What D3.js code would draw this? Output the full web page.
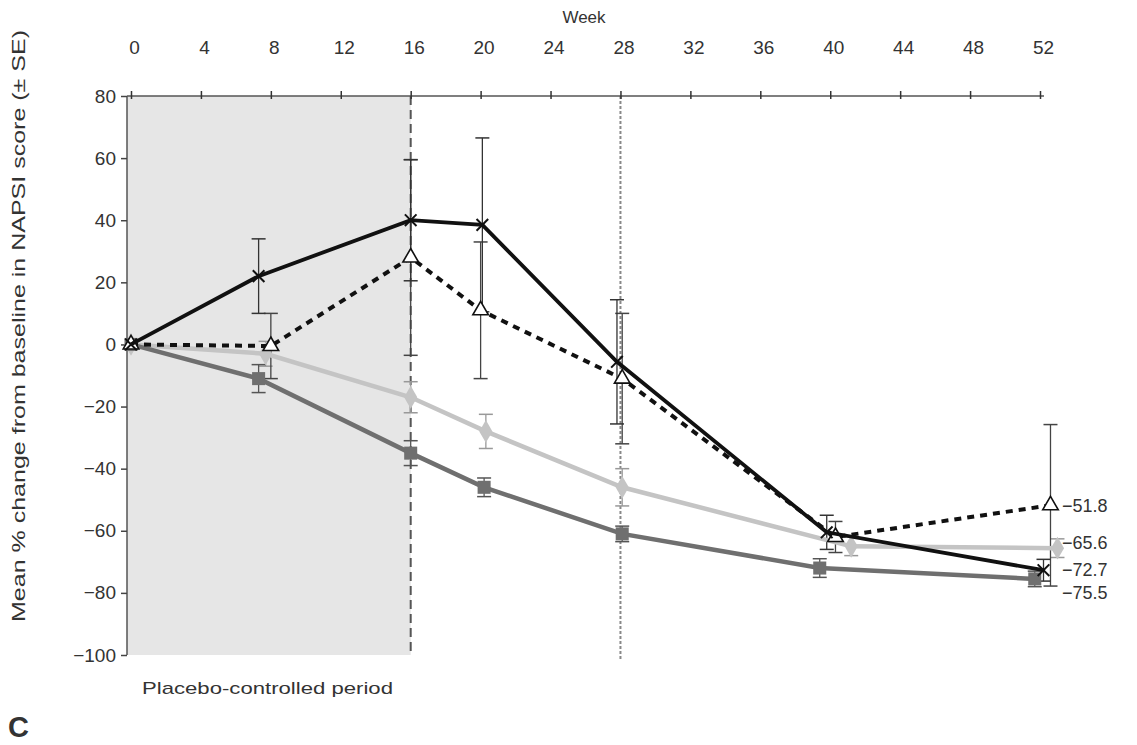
<!DOCTYPE html>
<html>
<head>
<meta charset="utf-8">
<script src="https://cdn.jsdelivr.net/npm/d3@7"></script>
<style>
  html, body { margin: 0; padding: 0; background: #fff; }
  svg { display: block; }
  text { font-family: "Liberation Sans", Arial, Helvetica, sans-serif; fill: #333; }
</style>
</head>
<body>
<svg id="chart" width="1137" height="745"></svg>
<script>
// ---- data ----
const xTicks = [0, 4, 8, 12, 16, 20, 24, 28, 32, 36, 40, 44, 48, 52];
const yTicks = [80, 60, 40, 20, 0, -20, -40, -60, -80, -100];

// weeks as plotted (points slightly offset in original to avoid overlap)
const crossWeeks = [0, 7.3, 16, 20.1, 27.8, 39.8, 52.2];
const crossMean  = [0, 22, 40, 38.5, -5.6, -60.5, -72.7];
const crossSE    = [0, 12, 19.5, 28, 20, 5.5, 3.5];

const triWeeks = [0, 8, 16, 20, 28.1, 40.3, 52.6];
const triMean  = [0, -0.5, 28, 11, -11, -62, -51.8];
const triSE    = [0, 10.5, 31.5, 22, 21, 5, 26];

const lightWeeks = [0, 7.7, 16, 20.3, 28.1, 41.2, 53];
const lightMean  = [0, -3, -17, -28, -46, -65, -65.6];
const lightSE    = [0, 4, 5, 5.5, 6, 3, 3];

const sqWeeks = [0, 7.3, 16, 20.2, 28.1, 39.4, 51.7];
const sqMean  = [0, -11, -35, -46, -61, -72, -75.5];
const sqSE    = [0, 4.5, 4, 3, 2.5, 3, 2.5];

const endLabels = ["\u221251.8", "\u221265.6", "\u221272.7", "\u221275.5"];
const endLabelY = [-51.8, -63.8, -72.6, -80];

// ---- layout ----
const svg = d3.select("#chart");
const x = d3.scaleLinear().domain([0, 52]).range([131, 1040]);
const y = d3.scaleLinear().domain([-100, 80]).range([655, 96]);
const axisX0 = 127;
const FONT = "'Liberation Sans', Arial, sans-serif";

// shaded placebo region
svg.append("rect")
  .attr("x", axisX0).attr("y", y(80))
  .attr("width", x(16) - axisX0).attr("height", y(-100) - y(80))
  .attr("fill", "#e6e6e6");

// reference lines
svg.append("line")
  .attr("x1", x(16)).attr("x2", x(16)).attr("y1", y(80)).attr("y2", y(-100))
  .attr("stroke", "#555").attr("stroke-width", 2).attr("stroke-dasharray", "9,5");
svg.append("line")
  .attr("x1", x(28)).attr("x2", x(28)).attr("y1", y(80)).attr("y2", y(-100) + 6)
  .attr("stroke", "#888").attr("stroke-width", 2).attr("stroke-dasharray", "3,2");

// top x axis
const xAxis = d3.axisTop(x).tickValues(xTicks).tickSize(5).tickPadding(37);
const gx = svg.append("g").attr("transform", `translate(0,${y(80)})`).call(xAxis);
gx.select(".domain").attr("d", `M${axisX0},0H${x(52) + 4}`).attr("stroke", "#555").attr("stroke-width", 1.5);
gx.selectAll(".tick line").attr("stroke", "#333").attr("y1", 3).attr("stroke-width", 1.5);
gx.selectAll(".tick text").style("font-size", "19px").attr("fill", "#3a3a3a").attr("dx", 3)
  .style("font-family", FONT);

svg.append("text").attr("x", 584).attr("y", 23).attr("text-anchor", "middle")
  .style("font-size", "17px").text("Week");

// left y axis
const yAxis = d3.axisLeft(y).tickValues(yTicks).tickSize(6).tickPadding(5)
  .tickFormat(d => d < 0 ? "\u2212" + Math.abs(d) : String(d));
const gy = svg.append("g").attr("transform", `translate(${axisX0},0)`).call(yAxis);
gy.select(".domain").attr("d", `M0,${y(80)}V${y(-100)}`).attr("stroke", "#555").attr("stroke-width", 1.5);
gy.selectAll(".tick line").attr("stroke", "#444").attr("stroke-width", 1.5);
gy.selectAll(".tick text").style("font-size", "19px").attr("fill", "#3a3a3a")
  .style("font-family", FONT);

svg.append("text")
  .attr("transform", `translate(25,${326}) rotate(-90)`)
  .attr("text-anchor", "middle").style("font-size", "19px")
  .attr("textLength", 592).attr("lengthAdjust", "spacingAndGlyphs")
  .text("Mean % change from baseline in NAPSI score (\u00b1 SE)");

svg.append("text").attr("x", 142).attr("y", 694).style("font-size", "17px")
  .attr("textLength", 251).attr("lengthAdjust", "spacingAndGlyphs")
  .text("Placebo-controlled period");

svg.append("text").attr("x", 8).attr("y", 737).style("font-size", "29px")
  .style("font-weight", "bold").attr("fill", "#222").text("C");

// ---- series ----
function zip(w, m, s) { return w.map((d, i) => ({ w: d, m: m[i], s: s[i] })); }
const series = [
  { data: zip(lightWeeks, lightMean, lightSE), color: "#c4c4c4", width: 4.5, dash: null, bar: "#999", marker: "circle" },
  { data: zip(sqWeeks, sqMean, sqSE), color: "#6f6f6f", width: 4.5, dash: null, bar: "#555", marker: "square" },
  { data: zip(triWeeks, triMean, triSE), color: "#111", width: 4, dash: "7,6", bar: "#444", marker: "triangle" },
  { data: zip(crossWeeks, crossMean, crossSE), color: "#111", width: 3.8, dash: null, bar: "#333", marker: "times" }
];

const line = d3.line().x(d => x(d.w)).y(d => y(d.m));

// error bars
series.forEach(s => {
  const g = svg.append("g");
  s.data.filter(d => d.s > 0).forEach(d => {
    const cx = x(d.w);
    g.append("line").attr("x1", cx).attr("x2", cx).attr("y1", y(d.m + d.s)).attr("y2", y(d.m - d.s))
      .attr("stroke", s.bar).attr("stroke-width", 1.3);
    [d.m + d.s, d.m - d.s].forEach(v => {
      g.append("line").attr("x1", cx - 7).attr("x2", cx + 7).attr("y1", y(v)).attr("y2", y(v))
        .attr("stroke", s.bar).attr("stroke-width", 1.5);
    });
  });
});

// lines and markers
series.forEach(s => {
  svg.append("path").datum(s.data).attr("d", line)
    .attr("fill", "none").attr("stroke", s.color).attr("stroke-width", s.width)
    .attr("stroke-dasharray", s.dash);
  const g = svg.append("g");
  s.data.forEach(d => {
    const cx = x(d.w), cy = y(d.m);
    if (s.marker === "circle") {
      g.append("path").attr("transform", `translate(${cx},${cy})`)
        .attr("d", d3.symbol(d3.symbolDiamond, 150)()).attr("fill", s.color);
    } else if (s.marker === "square") {
      g.append("path").attr("transform", `translate(${cx},${cy})`)
        .attr("d", d3.symbol(d3.symbolSquare, 170)()).attr("fill", s.color);
    } else if (s.marker === "triangle") {
      g.append("path").attr("transform", `translate(${cx},${cy})`)
        .attr("d", d3.symbol(d3.symbolTriangle, 105)()).attr("fill", "#fff")
        .attr("stroke", "#111").attr("stroke-width", 1.6);
    } else {
      g.append("path").attr("transform", `translate(${cx},${cy})`)
        .attr("d", d3.symbol(d3.symbolTimes, 90)()).attr("fill", "none")
        .attr("stroke", "#111").attr("stroke-width", 2);
    }
  });
});

// end labels
svg.append("g").selectAll("text").data(endLabels).join("text")
  .attr("x", 1062).attr("y", (d, i) => y(endLabelY[i])).attr("dy", "0.35em")
  .style("font-size", "18px").attr("fill", "#333").text(d => d);
</script>
</body>
</html>
